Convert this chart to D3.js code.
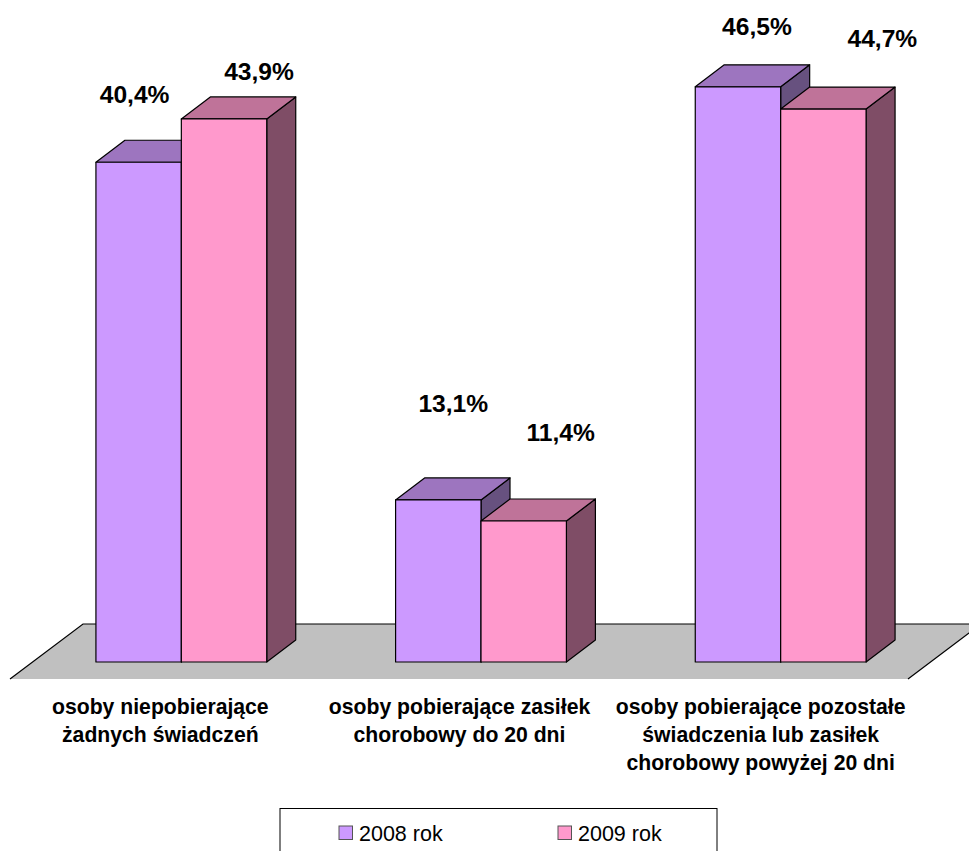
<!DOCTYPE html>
<html lang="pl">
  <head>
    <meta charset="UTF-8" />
    <title>Chart</title>
    <style>
      body { margin: 0; background: #fff; }
      svg { display: block; }
      text { font-family: "Liberation Sans", Arial, sans-serif; fill: #000; }
      .value { font-size: 24.6px; font-weight: bold; text-anchor: middle; }
      .cat { font-size: 21.2px; font-weight: bold; text-anchor: middle; }
      .legend { font-size: 21.5px; }
    </style>
  </head>
  <body>
    <svg></svg>
    <script src="https://cdnjs.cloudflare.com/ajax/libs/d3/7.1.0/d3.min.js"></script>
    <script>
      const categories = [
        ["osoby niepobierające", "żadnych świadczeń"],
        ["osoby pobierające zasiłek", "chorobowy do 20 dni"],
        ["osoby pobierające pozostałe", "świadczenia lub zasiłek", "chorobowy powyżej 20 dni"],
      ];
      const seriesNames = ["2008 rok", "2009 rok"];
      const values2008 = [40.4, 13.1, 46.5];
      const values2009 = [43.9, 11.4, 44.7];

      // hand placed data labels in the original: [dx, dy] from the top of the bar
      const labelOffsets2008 = [[-4, -59], [15, -88], [19, -52]];
      const labelOffsets2009 = [[35, -39], [37, -80], [59, -62]];
      // category labels are not centred on the groups either
      const categoryShift = [-21, -21.5, -20];

      const width = 969;
      const height = 851;
      const baseY = 662;
      const depth = { x: 29, y: -22 };

      const seriesStyle = [
        { front: "#cc99ff", top: "#9d75bf", side: "#67517f", values: values2008, offsets: labelOffsets2008 },
        { front: "#ff99cc", top: "#bf7399", side: "#7f4d66", values: values2009, offsets: labelOffsets2009 },
      ];

      const svg = d3.select("svg").attr("width", width).attr("height", height);

      const x0 = d3
        .scaleBand()
        .domain(d3.range(categories.length))
        .range([31.5, 930.5])
        .paddingInner(0.43)
        .paddingOuter(0.215);
      const x1 = d3.scaleBand().domain([0, 1]).range([0, x0.bandwidth()]);
      const y = d3.scaleLinear().domain([0, 50]).range([baseY, baseY - 618.5]);

      // floor
      const floor = [[10, 679], [908, 679], [981, 624], [83, 624]];
      svg.append("polygon")
        .attr("points", floor.join(" "))
        .attr("fill", "#c0c0c0");
      svg.append("path")
        .attr("d", d3.line()([floor[0], floor[3], floor[2], floor[1]]))
        .attr("fill", "none")
        .attr("stroke", "#000")
        .attr("stroke-width", 1.2);

      const poly = (pts) => pts.join(" ");

      categories.forEach(function (cat, i) {
        const g = svg.append("g");
        seriesStyle.forEach(function (s, j) {
          const left = x0(i) + x1(j);
          const right = left + x1.bandwidth();
          const top = y(s.values[i]);
          const dx = depth.x;
          const dy = depth.y;

          const bar = g.append("g")
            .attr("stroke", "#000")
            .attr("stroke-width", 1.2)
            .attr("stroke-linejoin", "round");
          bar.append("polygon")
            .attr("points", poly([[right, top], [right + dx, top + dy], [right + dx, baseY + dy], [right, baseY]]))
            .attr("fill", s.side);
          bar.append("polygon")
            .attr("points", poly([[left, top], [left + dx, top + dy], [right + dx, top + dy], [right, top]]))
            .attr("fill", s.top);
          bar.append("rect")
            .attr("x", left)
            .attr("y", top)
            .attr("width", right - left)
            .attr("height", baseY - top)
            .attr("fill", s.front);

          svg.append("text")
            .attr("class", "value")
            .attr("x", left + x1.bandwidth() / 2 + s.offsets[i][0])
            .attr("y", top + s.offsets[i][1])
            .text(String(s.values[i].toFixed(1)).replace(".", ",") + "%");
        });

        const labelX = x0(i) + x0.bandwidth() / 2 + categoryShift[i];
        const label = svg.append("text")
          .attr("class", "cat")
          .attr("y", 714);
        label.selectAll("tspan")
          .data(cat)
          .enter()
          .append("tspan")
          .attr("x", labelX)
          .attr("dy", function (d, k) { return k == 0 ? 0 : 28; })
          .text(function (d) { return d; });
      });

      // legend, its box runs off the bottom of the picture
      svg.append("rect")
        .attr("x", 280)
        .attr("y", 808.5)
        .attr("width", 437)
        .attr("height", 60)
        .attr("fill", "#fff")
        .attr("stroke", "#000")
        .attr("stroke-width", 1);

      const legendX = d3.scalePoint().domain(seriesNames).range([339, 558]);
      seriesNames.forEach(function (name, j) {
        svg.append("rect")
          .attr("x", legendX(name))
          .attr("y", 826)
          .attr("width", 13.5)
          .attr("height", 13.5)
          .attr("fill", seriesStyle[j].front)
          .attr("stroke", "#555")
          .attr("stroke-width", 1);
        svg.append("text")
          .attr("class", "legend")
          .attr("x", legendX(name) + 20)
          .attr("y", 841)
          .text(name);
      });
    </script>
  </body>
</html>
